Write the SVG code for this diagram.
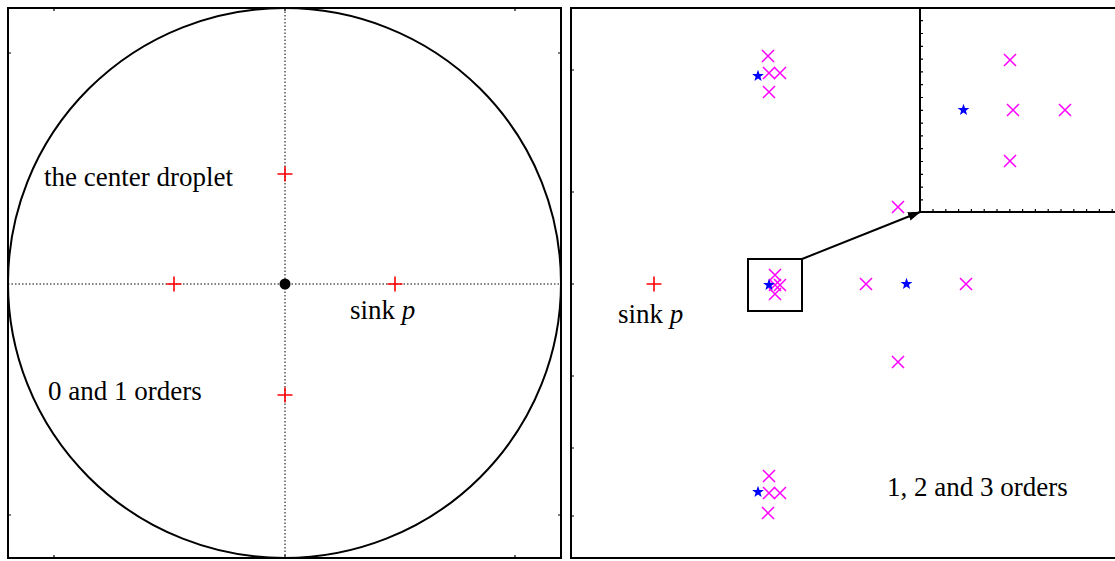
<svg xmlns="http://www.w3.org/2000/svg" width="1115" height="561" viewBox="0 0 1115 561">
<style>
.frame{fill:none;stroke:#000;stroke-width:2}
.tick{stroke:#000;stroke-width:1.2}
.dot{stroke:#000;stroke-width:1;stroke-dasharray:1.5 2;fill:none}
.lbl{font-family:"Liberation Serif","Times New Roman",serif;font-size:27px;fill:#000}
.plus{stroke:#ff0000;stroke-width:1.6;fill:none}
.cross{stroke:#ff00ff;stroke-width:1.5;fill:none}
.star{fill:#0000ff}
</style>
<defs>
<path id="pl" class="plus" d="M-7.5,0H7.5M0,-7.5V7.5"/>
<path id="cx" class="cross" d="M-6,-6L6,6M-6,6L6,-6"/>
<path id="st" class="star" d="M0,-6.2L1.5,-2L5.9,-1.9L2.4,0.8L3.6,5.1L0,2.5L-3.6,5.1L-2.4,0.8L-5.9,-1.9L-1.5,-2Z"/>
<marker id="ah" markerWidth="13" markerHeight="9" refX="12" refY="4.5" orient="auto" markerUnits="userSpaceOnUse">
<path d="M0,0L13,4.5L0,9Z" fill="#000"/>
</marker>
</defs>
<rect width="1115" height="561" fill="#fff"/>

<g id="left-panel">
<rect class="frame" x="8" y="8" width="553" height="550"/>
<path class="tick" d="M8,53h3M8,515h3M561,53h-3M561,515h-3M54,8v3M54,558v-3M515,8v3M515,558v-3M285,8v3M285,558v-3"/>
<line class="dot" x1="8" y1="284" x2="561" y2="284"/>
<line class="dot" x1="285" y1="8" x2="285" y2="558"/>
<ellipse cx="284.5" cy="283" rx="276.5" ry="275" fill="none" stroke="#000" stroke-width="2"/>
<circle cx="285" cy="284" r="5.5" fill="#000"/>
<use href="#pl" x="285" y="174"/>
<use href="#pl" x="174" y="284"/>
<use href="#pl" x="395" y="284"/>
<use href="#pl" x="285" y="395"/>
<text class="lbl" x="44" y="186">the center droplet</text>
<text class="lbl" x="350" y="319">sink <tspan font-style="italic">p</tspan></text>
<text class="lbl" x="48" y="400">0 and 1 orders</text>
</g>

<g id="right-panel">
<rect class="frame" x="571" y="8" width="548" height="550"/>
<path class="tick" d="M571,70h3M571,192h3M571,284h3M571,376h3M571,448h3M571,516h3"/>
<use href="#pl" x="654" y="284"/>
<text class="lbl" x="618" y="323">sink <tspan font-style="italic">p</tspan></text>
<text class="lbl" x="887" y="496">1, 2 and 3 orders</text>
</g>

<g id="cluster-top">
<use href="#st" x="758" y="76"/>
<use href="#cx" x="768" y="56"/>
<use href="#cx" x="769" y="73"/>
<use href="#cx" x="780" y="73"/>
<use href="#cx" x="769" y="92"/>
</g>

<g id="cluster-bottom">
<use href="#st" x="758" y="492"/>
<use href="#cx" x="769" y="476"/>
<use href="#cx" x="769" y="493"/>
<use href="#cx" x="780" y="493"/>
<use href="#cx" x="768" y="513"/>
</g>

<g id="cluster-middle">
<rect class="frame" x="748" y="259" width="54" height="52"/>
<use href="#cx" x="775" y="275"/>
<use href="#cx" x="775" y="285"/>
<use href="#cx" x="780" y="285"/>
<use href="#cx" x="775" y="294"/>
<use href="#st" x="769" y="285"/>
</g>

<g id="cluster-large">
<use href="#st" x="906.5" y="284"/>
<use href="#cx" x="866" y="284"/>
<use href="#cx" x="966" y="284"/>
<use href="#cx" x="898" y="207"/>
<use href="#cx" x="898" y="362"/>
</g>

<g id="inset">
<path class="frame" d="M920,8V212H1116"/>
<path class="tick" d="M920,20.7h3M920,33.5h3M920,46.3h3M920,59.1h3M920,71.9h3M920,84.7h3M920,97.5h3M920,110.3h3M920,123.1h3M920,135.9h3M920,148.7h3M920,161.5h3M920,174.3h3M920,187.1h3M920,199.9h3"/>
<path class="tick" d="M933,212v-3M945.8,212v-3M958.6,212v-3M971.4,212v-3M984.2,212v-3M997,212v-3M1009.8,212v-3M1022.6,212v-3M1035.4,212v-3M1048.2,212v-3M1061,212v-3M1073.8,212v-3M1086.6,212v-3M1099.4,212v-3M1112.2,212v-3"/>
<use href="#st" x="963.5" y="110"/>
<use href="#cx" x="1010" y="60"/>
<use href="#cx" x="1013" y="110"/>
<use href="#cx" x="1065" y="110"/>
<use href="#cx" x="1010" y="161"/>
</g>

<g id="connectors">
<line x1="802" y1="259" x2="920" y2="212" stroke="#000" stroke-width="2" marker-end="url(#ah)"/>
</g>
</svg>
